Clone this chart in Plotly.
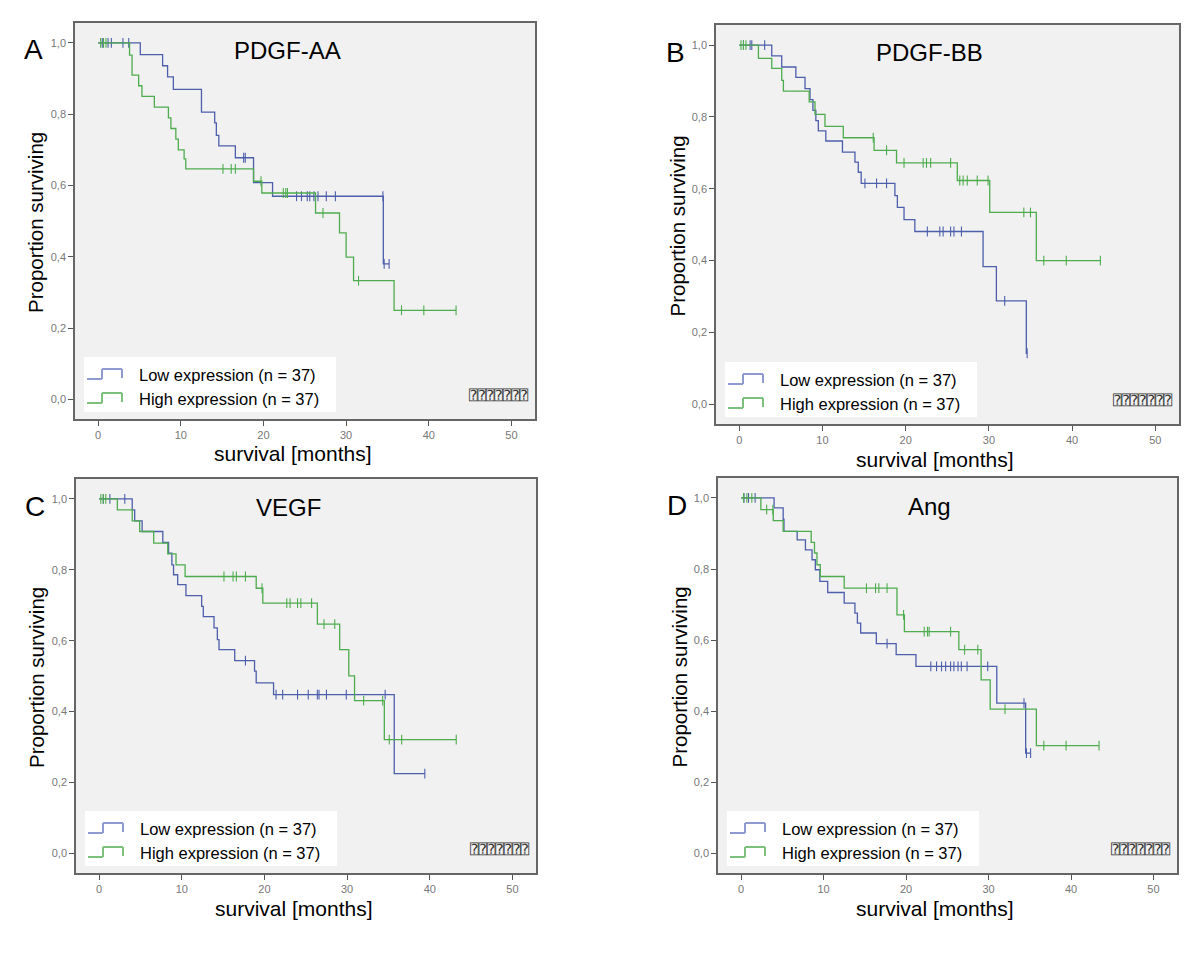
import plotly.graph_objects as go

# ---------------- data ----------------
titles = ["PDGF-AA", "PDGF-BB", "VEGF", "Ang"]
letters = ["A", "B", "C", "D"]
group_names = ["Low expression (n = 37)", "High expression (n = 37)"]

# Panel A
a_low_t = [5.1, 7.8, 8.4, 9.1, 12.5, 14.1, 14.3, 14.6, 16.6, 18.8, 21.1, 34.5]
a_low_s = [0.967, 0.936, 0.905, 0.870, 0.806, 0.776, 0.741, 0.711, 0.678, 0.608, 0.570, 0.380]
a_low_c = [0.5, 1.2, 1.6, 3.0, 3.7, 17.6, 17.8, 24.0, 24.6, 25.3, 25.6, 26.1, 26.6, 27.6, 28.7, 34.45, 34.6, 35.2]
a_high_t = [3.8, 4.1, 4.9, 5.3, 6.8, 8.5, 8.8, 9.4, 9.7, 10.4, 10.6, 18.8, 19.8, 26.3, 29.2, 30.0, 30.9, 35.8]
a_high_s = [0.966, 0.910, 0.880, 0.850, 0.820, 0.790, 0.760, 0.730, 0.700, 0.675, 0.647, 0.612, 0.579, 0.523, 0.467, 0.399, 0.333, 0.250]
a_high_c = [0.3, 0.65, 0.95, 15.1, 16.1, 16.6, 19.7, 22.4, 22.7, 22.9, 27.2, 31.5, 36.7, 39.4, 43.3]

# Panel B
b_low_t = [3.9, 5.1, 6.8, 7.9, 8.5, 8.85, 9.2, 9.5, 10.4, 12.4, 13.9, 14.3, 14.65, 18.7, 19.0, 19.8, 21.1, 29.3, 30.9, 34.5]
b_low_s = [0.970, 0.939, 0.910, 0.879, 0.848, 0.818, 0.790, 0.761, 0.733, 0.702, 0.674, 0.646, 0.615, 0.581, 0.548, 0.514, 0.481, 0.383, 0.288, 0.142]
b_low_c = [0.5, 1.3, 1.5, 3.05, 15.1, 16.5, 17.7, 22.6, 24.1, 24.5, 25.4, 25.8, 26.7, 31.9, 34.6]
b_high_t = [2.3, 3.9, 5.1, 5.3, 8.4, 9.1, 10.3, 12.5, 16.2, 18.9, 26.2, 30.1, 35.7]
b_high_s = [0.963, 0.935, 0.902, 0.872, 0.842, 0.807, 0.774, 0.742, 0.707, 0.672, 0.623, 0.534, 0.400]
b_high_c = [0.2, 0.5, 0.8, 16.1, 17.7, 19.8, 22.1, 22.5, 23.0, 25.4, 26.5, 26.9, 27.4, 28.6, 29.9, 34.2, 35.0, 36.6, 39.3, 43.4]

# Panel C
c_low_t = [4.0, 4.3, 5.2, 7.7, 8.4, 8.8, 9.0, 9.5, 10.5, 12.4, 12.6, 13.9, 14.3, 14.5, 16.4, 18.8, 19.0, 21.1, 35.7]
c_low_s = [0.969, 0.938, 0.908, 0.877, 0.847, 0.814, 0.786, 0.758, 0.727, 0.697, 0.668, 0.636, 0.603, 0.575, 0.544, 0.514, 0.481, 0.448, 0.225]
c_low_c = [0.5, 1.3, 3.1, 17.7, 21.4, 22.2, 24.0, 25.3, 26.4, 26.6, 27.5, 29.9, 34.6, 39.4]
c_high_t = [2.2, 4.0, 4.9, 6.6, 8.3, 9.3, 10.4, 19.0, 19.8, 26.4, 29.1, 30.2, 30.9, 34.5]
c_high_s = [0.969, 0.938, 0.908, 0.875, 0.845, 0.814, 0.781, 0.748, 0.706, 0.647, 0.575, 0.501, 0.431, 0.321]
c_high_c = [0.2, 0.5, 0.8, 15.1, 16.2, 16.6, 17.7, 19.7, 22.7, 23.1, 24.0, 24.4, 25.7, 27.2, 28.5, 32.0, 34.3, 35.1, 36.6, 43.2]

# Panel D
d_low_t = [4.0, 5.1, 5.2, 6.8, 7.8, 8.6, 9.0, 9.55, 10.5, 12.5, 13.8, 14.1, 14.5, 16.4, 18.8, 21.2, 31.0, 34.5]
d_low_s = [0.972, 0.940, 0.906, 0.882, 0.854, 0.826, 0.798, 0.765, 0.734, 0.704, 0.676, 0.648, 0.620, 0.590, 0.559, 0.526, 0.423, 0.282]
d_low_c = [0.35, 0.9, 1.7, 17.7, 23.0, 23.7, 24.3, 24.8, 25.4, 25.8, 26.3, 26.7, 27.4, 29.9, 34.3, 34.6, 35.1]
d_high_t = [2.4, 3.9, 5.1, 8.5, 8.9, 9.2, 9.6, 12.5, 18.9, 19.8, 26.4, 29.1, 30.2, 35.8]
d_high_s = [0.967, 0.936, 0.906, 0.875, 0.845, 0.812, 0.779, 0.746, 0.671, 0.624, 0.573, 0.488, 0.406, 0.303]
d_high_c = [0.3, 0.7, 1.3, 3.1, 3.85, 15.2, 16.3, 16.7, 17.7, 19.7, 22.2, 22.6, 22.8, 25.4, 27.1, 28.7, 32.0, 36.7, 39.4, 43.4]

x_ticks = [0, 10, 20, 30, 40, 50]
y_ticks = [0.0, 0.2, 0.4, 0.6, 0.8, 1.0]

panels = [
    (a_low_t, a_low_s, a_low_c, a_high_t, a_high_s, a_high_c),
    (b_low_t, b_low_s, b_low_c, b_high_t, b_high_s, b_high_c),
    (c_low_t, c_low_s, c_low_c, c_high_t, c_high_s, c_high_c),
    (d_low_t, d_low_s, d_low_c, d_high_t, d_high_s, d_high_c),
]

# ---------------- styling / layout ----------------
OFF = 8                      # page body margin of the html page
W, H = 1200 - 2 * OFF, 953 - 2 * OFF
colors = ["#4d5eab", "#4eac4e"]
legend_colors = ["#8e9ad0", "#7dc07d"]
# plot-box pixel positions in the page: left, top, right, bottom
boxes = [(75, 23, 535, 419), (716, 25, 1179, 424), (76, 479, 536, 873), (718, 478, 1177, 873)]
font = "Liberation Sans, Arial, sans-serif"

fig = go.Figure()


def surv_at(ts, ss, t):
    v = 1.0
    for ti, si in zip(ts, ss):
        if ti <= t:
            v = si
    return v


for i, pdata in enumerate(panels):
    ax = "" if i == 0 else str(i + 1)
    groups = [(pdata[0], pdata[1], pdata[2]), (pdata[3], pdata[4], pdata[5])]
    for g, (ts, ss, cs) in enumerate(groups):
        end = max(max(ts), max(cs))
        xs = [0] + list(ts) + [end]
        ys = [1.0] + list(ss) + [ss[-1]]
        fig.add_trace(go.Scatter(x=xs, y=ys, mode="lines", line=dict(color=colors[g], width=1.3, shape="hv"),
                                 xaxis="x" + ax, yaxis="y" + ax, showlegend=False, hoverinfo="skip"))
        cy = [surv_at(ts, ss, c) for c in cs]
        fig.add_trace(go.Scatter(x=cs, y=cy, mode="markers",
                                 marker=dict(symbol="line-ns", size=7, line=dict(color=colors[g], width=1.1)),
                                 xaxis="x" + ax, yaxis="y" + ax, showlegend=False, hoverinfo="skip"))

layout = dict(width=W, height=H, margin=dict(l=0, r=0, t=0, b=0), paper_bgcolor="white",
              plot_bgcolor="#f1f1f1", separators=", ", showlegend=False, font=dict(family=font))
shapes = []
annotations = []
for i, (l, t, r, b) in enumerate(boxes):
    ax = "" if i == 0 else str(i + 1)
    xd = [(l - OFF) / W, (r - OFF) / W]
    yd = [1 - (b - OFF) / H, 1 - (t - OFF) / H]
    bw, bh = r - l, b - t
    layout["xaxis" + ax] = dict(domain=xd, range=[-2.8, 52.85], tickvals=x_ticks, ticks="outside", ticklen=5,
                                tickcolor="#555", showline=True, linecolor="#666", linewidth=1.6, mirror=True,
                                showgrid=False, zeroline=False, tickfont=dict(size=11, color="#777", family=font),
                                anchor="y" + ax)
    layout["yaxis" + ax] = dict(domain=yd, range=[-0.055, 1.056], tickvals=y_ticks, tickformat=".1f",
                                ticks="outside", ticklen=5, tickcolor="#555", showline=True, linecolor="#666",
                                linewidth=1.6, mirror=True, showgrid=False, zeroline=False,
                                tickfont=dict(size=11, color="#777", family=font), anchor="x" + ax)
    xr, yr = "x" + ax + " domain", "y" + ax + " domain"

    def px(v):
        return v / bw

    def py(v):
        return v / bh

    # legend box
    shapes.append(dict(type="rect", xref=xr, yref=yr, x0=px(9), x1=px(261), y0=py(7), y1=py(62),
                       fillcolor="white", line=dict(width=0), layer="above"))
    for g, base in enumerate([40, 16]):
        pts = [(12, base), (27, base), (27, base + 10), (47, base + 10), (47, base + 1)]
        for (x0, y0), (x1, y1) in zip(pts[:-1], pts[1:]):
            shapes.append(dict(type="line", xref=xr, yref=yr, x0=px(x0), x1=px(x1), y0=py(y0), y1=py(y1),
                               line=dict(color=legend_colors[g], width=2), layer="above"))
        annotations.append(dict(xref=xr, yref=yr, x=px(62), y=py(base + 4), text=group_names[g],
                                showarrow=False, xanchor="left", yanchor="middle",
                                font=dict(size=16.5, color="black", family=font)))
    # garbled footnote
    annotations.append(dict(xref=xr, yref=yr, x=px(bw - 4), y=py(24), text="⍰⍰⍰⍰⍰⍰⍰", showarrow=False,
                            xanchor="right", yanchor="middle",
                            font=dict(size=14, color="#333", family="DejaVu Sans Mono")))
    # title
    annotations.append(dict(xref=xr, yref=yr, x=0.461, y=py(bh - 28), text=titles[i], showarrow=False,
                            xanchor="center", yanchor="middle", font=dict(size=24, color="black", family=font)))
    # panel letter
    annotations.append(dict(xref=xr, yref=yr, x=px(-41), y=py(bh - 27), text=letters[i], showarrow=False,
                            xanchor="center", yanchor="middle", font=dict(size=28, color="black", family=font)))
    # axis titles
    annotations.append(dict(xref=xr, yref=yr, x=px(-39), y=0.495, text="Proportion surviving", showarrow=False,
                            textangle=-90, xanchor="center", yanchor="middle",
                            font=dict(size=20.5, color="black", family=font)))
    annotations.append(dict(xref=xr, yref=yr, x=0.473, y=py(-35), text="survival [months]", showarrow=False,
                            xanchor="center", yanchor="middle", font=dict(size=21, color="black", family=font)))

layout["shapes"] = shapes
layout["annotations"] = annotations
fig.update_layout(**layout)
fig.write_html("out.html")
